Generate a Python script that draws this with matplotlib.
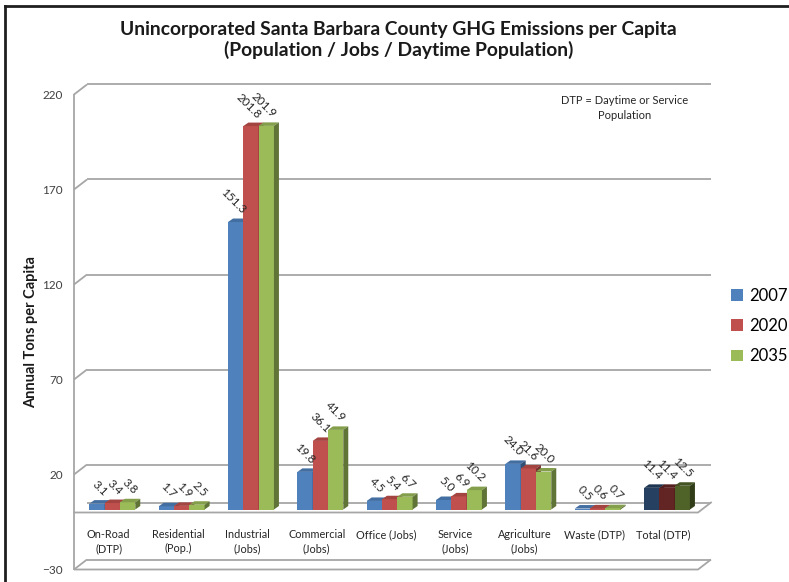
import matplotlib
matplotlib.use("Agg")
import matplotlib.pyplot as plt
from matplotlib.patches import Polygon, Patch
from matplotlib.lines import Line2D
from matplotlib.colors import to_rgb

plt.rcParams['font.family'] = ['Lato', 'DejaVu Sans']

# Emissions per capita (annual tons) by sector
categories = ["On-Road\n(DTP)", "Residential\n(Pop.)", "Industrial\n(Jobs)",
              "Commercial\n(Jobs)", "Office (Jobs)", "Service\n(Jobs)",
              "Agriculture\n(Jobs)", "Waste (DTP)", "Total (DTP)"]
years = ["2007", "2020", "2035"]
vals_2007 = [3.1, 1.7, 151.3, 19.8, 4.5, 5.0, 24.0, 0.5, 11.4]
vals_2020 = [3.4, 1.9, 201.8, 36.1, 5.4, 6.9, 21.6, 0.6, 11.4]
vals_2035 = [3.8, 2.5, 201.9, 41.9, 6.7, 10.2, 20.0, 0.7, 12.5]
yticks = [-30, 20, 70, 120, 170, 220]

colors = ["#4F81BD", "#C0504D", "#9BBB59"]
total_colors = ["#254061", "#632523", "#4F6228"]
grid_col = "#A6A6A6"

W, H = 789, 582
fig = plt.figure(figsize=(W / 100, H / 100), dpi=100)

# front plane of the chart box, in pixels
left_px, right_px = 74, 698
top_px, bot_px = 94.5, 569.5
ax = fig.add_axes([left_px / W, 1 - bot_px / H,
                   (right_px - left_px) / W, (bot_px - top_px) / H])
ax.set_xlim(-0.5, len(categories) - 0.5)
ax.set_ylim(-30, 220)
for s in ax.spines.values():
    s.set_visible(False)
ax.set_xticks([])
ax.set_yticks(yticks)
ax.tick_params(axis='y', length=0, pad=8, labelsize=8.5, labelcolor="#404040")

# pixel -> data unit factors
px_x = (len(categories)) / (right_px - left_px)
px_y = 250 / (bot_px - top_px)

# depth of the walls and of each bar
wx, wy = 13 * px_x, 10 * px_y
bx, by = 3.2 * px_x, 3 * px_y
dx, dy = 5 * px_x, 3.5 * px_y
bw = 15.3 * px_x

x_lo, x_hi = -0.5, len(categories) - 0.5
kw = dict(color=grid_col, lw=1.3, clip_on=False, zorder=1, solid_capstyle='butt')

# back wall gridlines and side-wall diagonals
for v in yticks:
    ax.plot([x_lo + wx, x_hi + wx], [v + wy, v + wy], **kw)
    ax.plot([x_lo, x_lo + wx], [v, v + wy], **kw)
ax.plot([x_lo, x_lo], [-30, 220], **kw)
# bottom floor
ax.plot([x_lo, x_hi, x_hi + wx], [-30, -30, -30 + wy], **kw)
# zero plane (category axis)
ax.plot([x_lo + wx, x_hi + wx], [wy, wy], **kw)
ax.plot([x_lo, x_hi, x_hi + wx], [0, 0, wy], color=grid_col, lw=1.3,
        clip_on=False, zorder=8)


def shade(c, f):
    r, g, b = to_rgb(c)
    return (r * f, g * f, b * f)


series = [vals_2007, vals_2020, vals_2035]
for k, vals in enumerate(series):
    for i, v in enumerate(vals):
        c = total_colors[k] if i == len(categories) - 1 else colors[k]
        x0 = i - 19.3 * px_x + k * bw
        z = 3 + k
        ax.bar(x0, v, width=bw, bottom=by, align='edge', color=c,
               edgecolor='none', zorder=z)
        top = by + v
        ax.add_patch(Polygon([(x0, top), (x0 + bw, top), (x0 + bw + dx, top + dy),
                              (x0 + dx, top + dy)], closed=True,
                             facecolor=shade(c, 0.85), edgecolor='none', zorder=z))
        ax.add_patch(Polygon([(x0 + bw, by), (x0 + bw + dx, by + dy),
                              (x0 + bw + dx, top + dy), (x0 + bw, top)], closed=True,
                             facecolor=shade(c, 0.62), edgecolor='none', zorder=z))
        ax.annotate(f"{v:.1f}", (x0 + bw / 2, top), xytext=(6, 7),
                    textcoords='offset points', rotation=-45,
                    rotation_mode='anchor', ha='right', va='center',
                    fontsize=8.5, color="#262626", zorder=10)

for i, name in enumerate(categories):
    ax.text(i, -8.7, name, ha='center', va='top', fontsize=7.8,
            color="#262626", linespacing=1.35)

ax.set_ylabel("Annual Tons per Capita", fontsize=10.5, fontweight='bold',
              color="#1a1a1a", labelpad=3)

fig.text(0.505, 1 - 40 / H,
         "Unincorporated Santa Barbara County GHG Emissions per Capita\n"
         "(Population / Jobs / Daytime Population)",
         ha='center', va='center', fontsize=13.9, fontweight='bold',
         color="#1a1a1a", linespacing=1.25)

fig.text(625 / W, 1 - 108 / H, "DTP = Daytime or Service\nPopulation",
         ha='center', va='center', fontsize=8, color="#262626", linespacing=1.4)

handles = [Patch(facecolor=c, edgecolor='none') for c in colors]
fig.legend(handles, years, loc='center left', bbox_to_anchor=(731 / W, 1 - 326 / H),
           frameon=False, fontsize=12, handlelength=0.7, handleheight=0.7,
           handletextpad=0.4, labelspacing=0.85, borderaxespad=0, borderpad=0)

# outer chart border (left and top edges)
fig.add_artist(Line2D([5 / W, 5 / W], [0, 1 - 6 / H], transform=fig.transFigure,
                      color="#1f1f1f", lw=2))
fig.add_artist(Line2D([5 / W, 1], [1 - 6 / H, 1 - 6 / H], transform=fig.transFigure,
                      color="#1f1f1f", lw=2))

fig.savefig("out.png", dpi=100)
